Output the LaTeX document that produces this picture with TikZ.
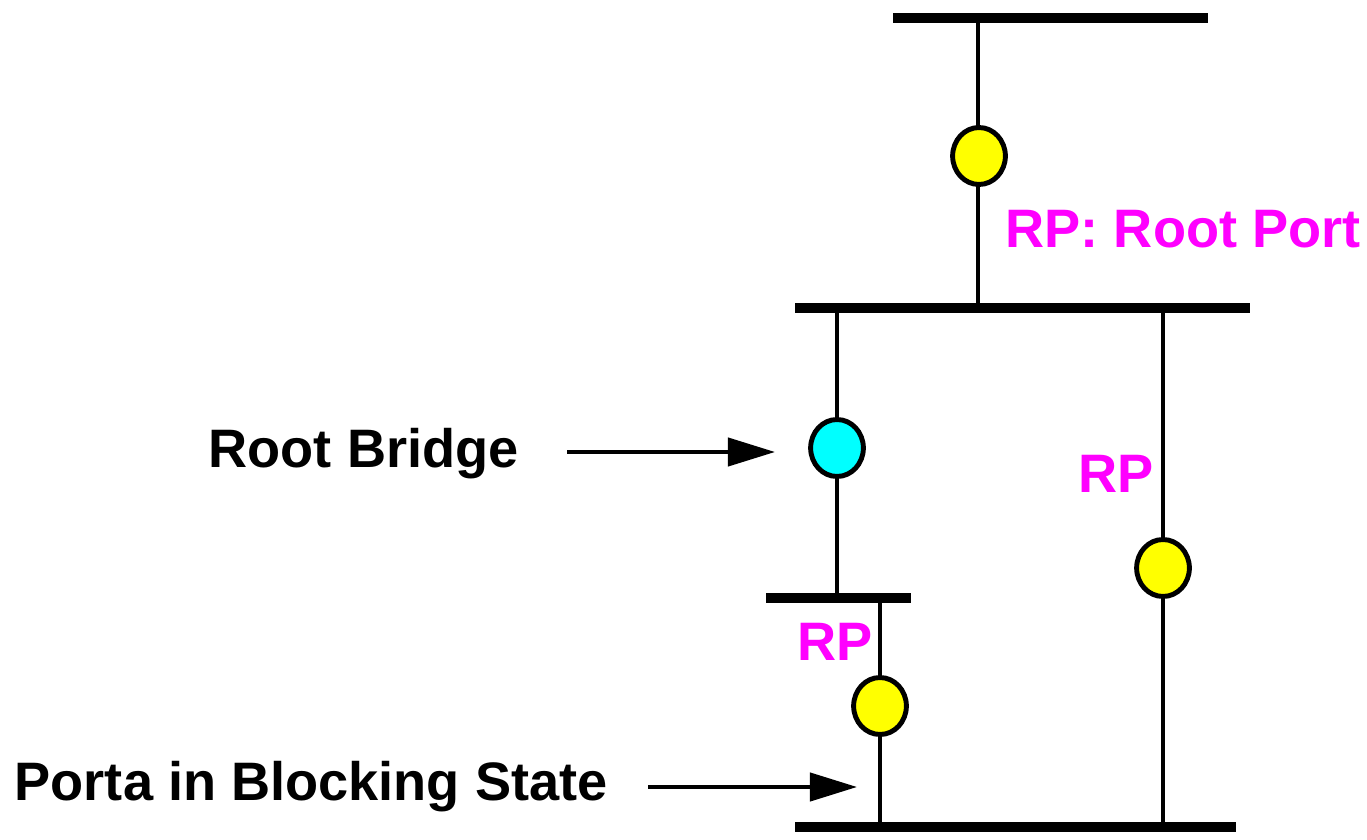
\documentclass[tikz,border=0pt]{standalone}
\usepackage{fontspec}
\setmainfont{Liberation Sans}
\usetikzlibrary{shapes.geometric,arrows.meta}
\definecolor{mag}{HTML}{FF00FF}
\definecolor{yel}{HTML}{FFFF00}
\definecolor{cya}{HTML}{00FFFF}
\tikzset{
  bus/.style={line width=3.1pt},
  link/.style={line width=1.15pt},
  port/.style={ellipse, draw, line width=1.4pt, minimum width=15pt, minimum height=16.2pt, inner sep=0pt},
  rp/.style={port, fill=yel},
  rootb/.style={port, fill=cya},
  lab/.style={anchor=base west, inner sep=0pt, font=\fontsize{15.4pt}{18pt}\selectfont\bfseries},
  pointer/.style={line width=1.15pt, -{Triangle[length=13.4pt,width=8pt]}}
}
\begin{document}
\begin{tikzpicture}[x=0.01cm,y=-0.01cm]
\useasboundingbox (0,0) rectangle (1367,840);
% buses
\coordinate (b1l) at (893,18);  \coordinate (b1r) at (1208,18);
\coordinate (b2l) at (795,308); \coordinate (b2r) at (1250,308);
\coordinate (b3l) at (766,598); \coordinate (b3r) at (911,598);
\coordinate (b4l) at (795,827); \coordinate (b4r) at (1236,827);
% tap points
\coordinate (t1) at (978,18);   \coordinate (t1b) at (978,308);
\coordinate (t2) at (837,308);  \coordinate (t2b) at (837,598);
\coordinate (t3) at (1163,308); \coordinate (t3b) at (1163,827);
\coordinate (t4) at (880,598);  \coordinate (t4b) at (880,827);
\draw[link] (t1) -- (t1b);
\draw[link] (t2) -- (t2b);
\draw[link] (t3) -- (t3b);
\draw[link] (t4) -- (t4b);
\draw[bus] (b1l) -- (b1r);
\draw[bus] (b2l) -- (b2r);
\draw[bus] (b3l) -- (b3r);
\draw[bus] (b4l) -- (b4r);
% ports
\node[rp] (p1) at (979,156) {};
\node[rootb] (p2) at (837,448) {};
\node[rp] (p3) at (1163,568) {};
\node[rp] (p4) at (880,706) {};
% labels
\node[lab, text=mag] (lrp) at (1005,248) {RP: Root Port};
\node[lab, text=mag] (lrp2) at (1078,492) {RP};
\node[lab, text=mag] (lrp3) at (797,660) {RP};
\node[lab] (lrb) at (208,468) {Root Bridge};
\node[lab] (lpb) at (14,800) {Porta in Blocking State};
% pointers
\coordinate (a1s) at (567,452); \coordinate (a1e) at (775,452);
\coordinate (a2s) at (648,787); \coordinate (a2e) at (857,787);
\draw[pointer] (a1s) -- (a1e);
\draw[pointer] (a2s) -- (a2e);
\end{tikzpicture}
\end{document}
